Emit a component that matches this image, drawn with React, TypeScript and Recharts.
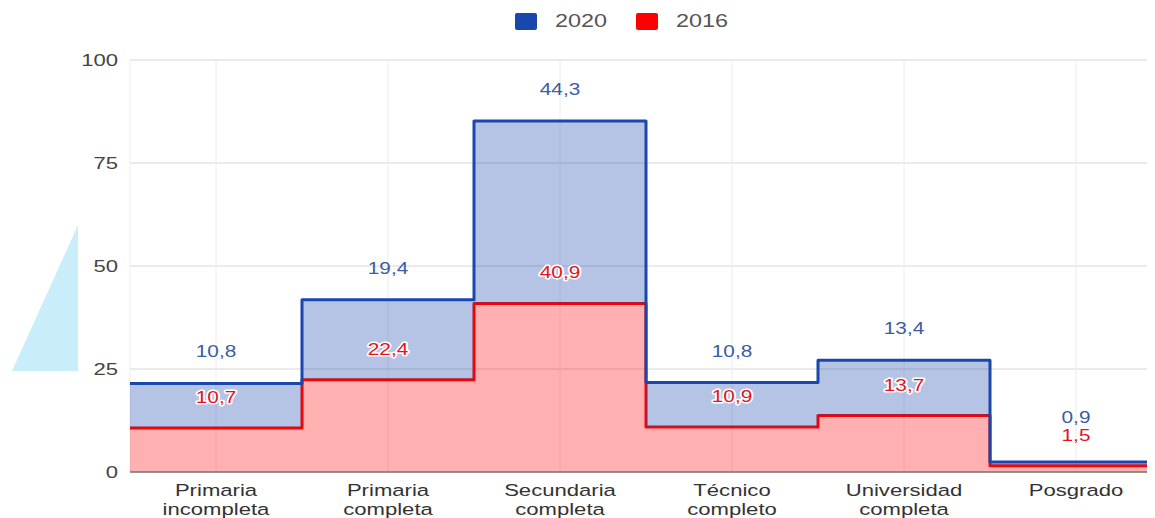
// Gráfico escalonado apilado (Recharts) — nivel educativo 2016 / 2020.
import { Area, AreaChart, CartesianGrid, XAxis, YAxis } from "recharts";

const CATEGORIES = [
  "Primaria\nincompleta",
  "Primaria\ncompleta",
  "Secundaria\ncompleta",
  "Técnico\ncompleto",
  "Universidad\ncompleta",
  "Posgrado",
];
const VALUES_2016 = [10.7, 22.4, 40.9, 10.9, 13.7, 1.5];
const VALUES_2020 = [10.8, 19.4, 44.3, 10.8, 13.4, 0.9];
const Y_TICKS = [0, 25, 50, 75, 100];
const X_TICKS = CATEGORIES.map((_, i) => i + 0.5);

const BLUE = "#1a47ae";
const RED = "#ff0000";
const BLUE_TEXT = "#3b5ca6";
const RED_TEXT = "#e8121c";
const SX = 1.3; // el original está estirado en horizontal

const W = 1154;
const H = 510;
const TOP = 52;
const XH = 46;
const YW = 122;
const PLOT_H = H - TOP - XH;

// filas: inicio y centro de cada categoría, más un cierre a la derecha
type Row = { x: number; v2016: number; v2020: number; center: boolean; i: number };
const rows: Row[] = [];
CATEGORIES.forEach((_, i) => {
  rows.push({ x: i, v2016: VALUES_2016[i], v2020: VALUES_2020[i], center: false, i });
  rows.push({ x: i + 0.5, v2016: VALUES_2016[i], v2020: VALUES_2020[i], center: true, i });
});
rows.push({ x: CATEGORIES.length, v2016: VALUES_2016[5], v2020: VALUES_2020[5], center: false, i: 5 });

const fmt = (v: number) => v.toFixed(1).replace(".", ",");
const FONT = "'Liberation Sans', Arial, sans-serif";

function StretchText({ x, y, anchor, fill, size, children, halo }: any) {
  return (
    <g transform={`translate(${x},${y}) scale(${SX},1)`}>
      <text
        x={0}
        y={0}
        textAnchor={anchor}
        fill={fill}
        fontSize={size}
        fontFamily={FONT}
        stroke={halo ? "#ffffff" : undefined}
        strokeWidth={halo ? 3 : undefined}
        strokeLinejoin="round"
        paintOrder="stroke"
      >
        {children}
      </text>
    </g>
  );
}

function XTick({ x, y, payload }: any) {
  const idx = Math.round(payload.value - 0.5);
  const lines = (CATEGORIES[idx] ?? "").split("\n");
  return (
    <g>
      {lines.map((l, k) => (
        <StretchText key={k} x={x} y={y + 24 + k * 19} anchor="middle" fill="#333" size={17}>
          {l}
        </StretchText>
      ))}
    </g>
  );
}

function YTick({ x, y, payload }: any) {
  return (
    <StretchText x={x} y={y + 6} anchor="end" fill="#444" size={17}>
      {payload.value}
    </StretchText>
  );
}

function redLabel(p: any) {
  const r = rows[p.index];
  if (!r || !r.center) return null;
  return (
    <StretchText key={`r${p.index}`} x={p.x} y={p.y - 31 + 6} anchor="middle" fill={RED_TEXT} size={16} halo>
      {fmt(r.v2016)}
    </StretchText>
  );
}

function blueLabel(p: any) {
  const r = rows[p.index];
  if (!r || !r.center) return null;
  const gap = (r.v2020 * PLOT_H) / 100;
  const redCenter = p.y + gap - 31;
  const cy = Math.min(p.y - 32, redCenter - 18);
  return (
    <StretchText key={`b${p.index}`} x={p.x} y={cy + 6} anchor="middle" fill={BLUE_TEXT} size={16}>
      {fmt(r.v2020)}
    </StretchText>
  );
}

function Legend() {
  const item = (color: string, label: string, left: number) => (
    <div style={{ position: "absolute", left, top: 5, display: "flex", alignItems: "center" }}>
      <span style={{ width: 22, height: 17, background: color, borderRadius: 2, display: "inline-block" }} />
      <span
        style={{
          marginLeft: 18,
          fontFamily: FONT,
          fontSize: 18,
          lineHeight: "17px",
          color: "#555",
          display: "inline-block",
          transform: `scaleX(${SX})`,
          transformOrigin: "left center",
        }}
      >
        {label}
      </span>
    </div>
  );
  return (
    <>
      {item(BLUE, "2020", 507)}
      {item(RED, "2016", 628)}
    </>
  );
}

export default function App() {
  return (
    <div style={{ position: "relative", width: 1147, height: 510, overflow: "hidden", background: "#fff" }}>
      <svg width={80} height={370} style={{ position: "absolute", left: 0, top: 0 }}>
        <polygon points="4,363 70,363 70,217" fill="#c9eef9" />
      </svg>
      <Legend />
      <div style={{ position: "absolute", left: 0, top: 0 }}>
        <AreaChart width={W} height={H} data={rows} margin={{ top: TOP, right: 0, bottom: 0, left: 0 }}>
          <CartesianGrid stroke="#d6d6d6" vertical={false} />
          <CartesianGrid stroke="#ececec" horizontal={false} />
          <XAxis
            dataKey="x"
            type="number"
            domain={[0, CATEGORIES.length]}
            ticks={X_TICKS}
            interval={0}
            allowDataOverflow
            height={XH}
            tickLine={false}
            tickSize={0}
            tickMargin={0}
            axisLine={{ stroke: "#777", strokeWidth: 1.5 }}
            tick={<XTick />}
          />
          <YAxis
            type="number"
            domain={[0, 100]}
            ticks={Y_TICKS}
            width={YW}
            tickLine={false}
            axisLine={false}
            tickSize={0}
            tickMargin={12}
            tick={<YTick />}
          />
          <Area
            type="stepAfter"
            dataKey="v2016"
            stackId="1"
            stroke={RED}
            strokeWidth={3}
            strokeLinejoin="round"
            fill={RED}
            fillOpacity={0.31}
            dot={false}
            activeDot={false}
            isAnimationActive={false}
            label={redLabel}
          />
          <Area
            type="stepAfter"
            dataKey="v2020"
            stackId="1"
            stroke={BLUE}
            strokeWidth={3}
            strokeLinejoin="round"
            fill={BLUE}
            fillOpacity={0.32}
            dot={false}
            activeDot={false}
            isAnimationActive={false}
            label={blueLabel}
          />
        </AreaChart>
      </div>
    </div>
  );
}
